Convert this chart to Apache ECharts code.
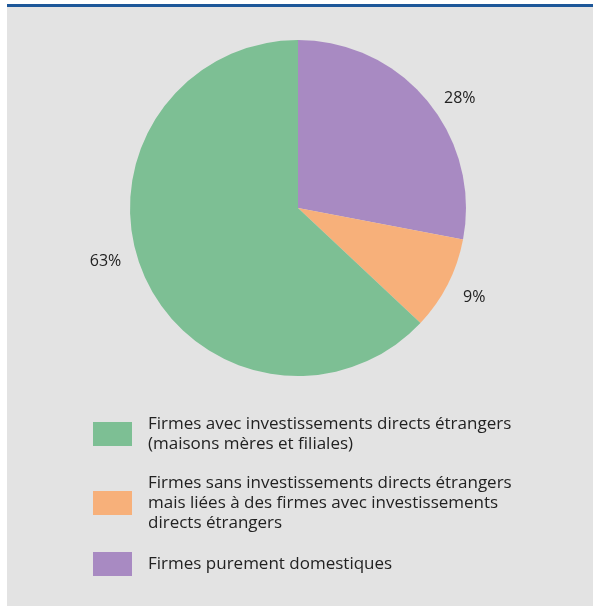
<!DOCTYPE html>
<html>
<head>
<meta charset="utf-8">
<script src="https://cdn.jsdelivr.net/npm/echarts@6/dist/echarts.min.js"></script>
<style>
  html, body { margin: 0; padding: 0; background: #ffffff; }
  #panel { position: absolute; left: 7px; top: 4px; width: 586px; height: 602px;
           background: #e3e3e3; border-top: 3px solid #1d5799; box-sizing: border-box; }
  #chart { position: absolute; left: 0; top: 0; width: 593px; height: 606px; }
</style>
</head>
<body>
<div id="panel"></div>
<div id="chart"></div>
<script>
// Shares of firms by type (percent), in clockwise order from 12 o'clock
const categories = [
  'Firmes purement domestiques',
  'Firmes sans investissements directs étrangers\nmais liées à des firmes avec investissements\ndirects étrangers',
  'Firmes avec investissements directs étrangers\n(maisons mères et filiales)'
];
const shares = [28, 9, 63];
const colors = ['#a88ac2', '#f7b07a', '#7dbf94'];
// Legend lists the categories in reverse order
const legendOrder = [categories[2], categories[1], categories[0]];
// Small nudges for the percentage labels [dx, dy]
const labelNudge = [[0, 1], [-2, 10], [-5, -16]];

const chart = echarts.init(document.getElementById('chart'), null, { renderer: 'canvas' });
chart.setOption({
  backgroundColor: 'transparent',
  animation: false,
  legend: {
    data: legendOrder,
    orient: 'vertical',
    left: 88,
    top: 409,
    itemWidth: 39,
    itemHeight: 24,
    itemGap: 19,
    icon: 'rect',
    selectedMode: false,
    textStyle: {
      fontFamily: 'Open Sans',
      fontSize: 17,
      lineHeight: 20,
      color: '#222222',
      padding: [0, 0, 0, 11]
    }
  },
  series: [{
    type: 'pie',
    center: [298, 208],
    radius: 168,
    startAngle: 90,
    clockwise: true,
    avoidLabelOverlap: false,
    data: categories.map((name, i) => ({
      name: name,
      value: shares[i],
      itemStyle: { color: colors[i] }
    })),
    label: {
      show: true,
      position: 'outside',
      formatter: '{c}%',
      fontFamily: 'Open Sans',
      fontSize: 16,
      color: '#222222'
    },
    labelLine: { show: false, length: 6, length2: 7 },
    labelLayout: function (params) {
      const n = labelNudge[params.dataIndex];
      return { dx: n[0], dy: n[1] };
    },
    emphasis: { disabled: true }
  }]
});
</script>
</body>
</html>
